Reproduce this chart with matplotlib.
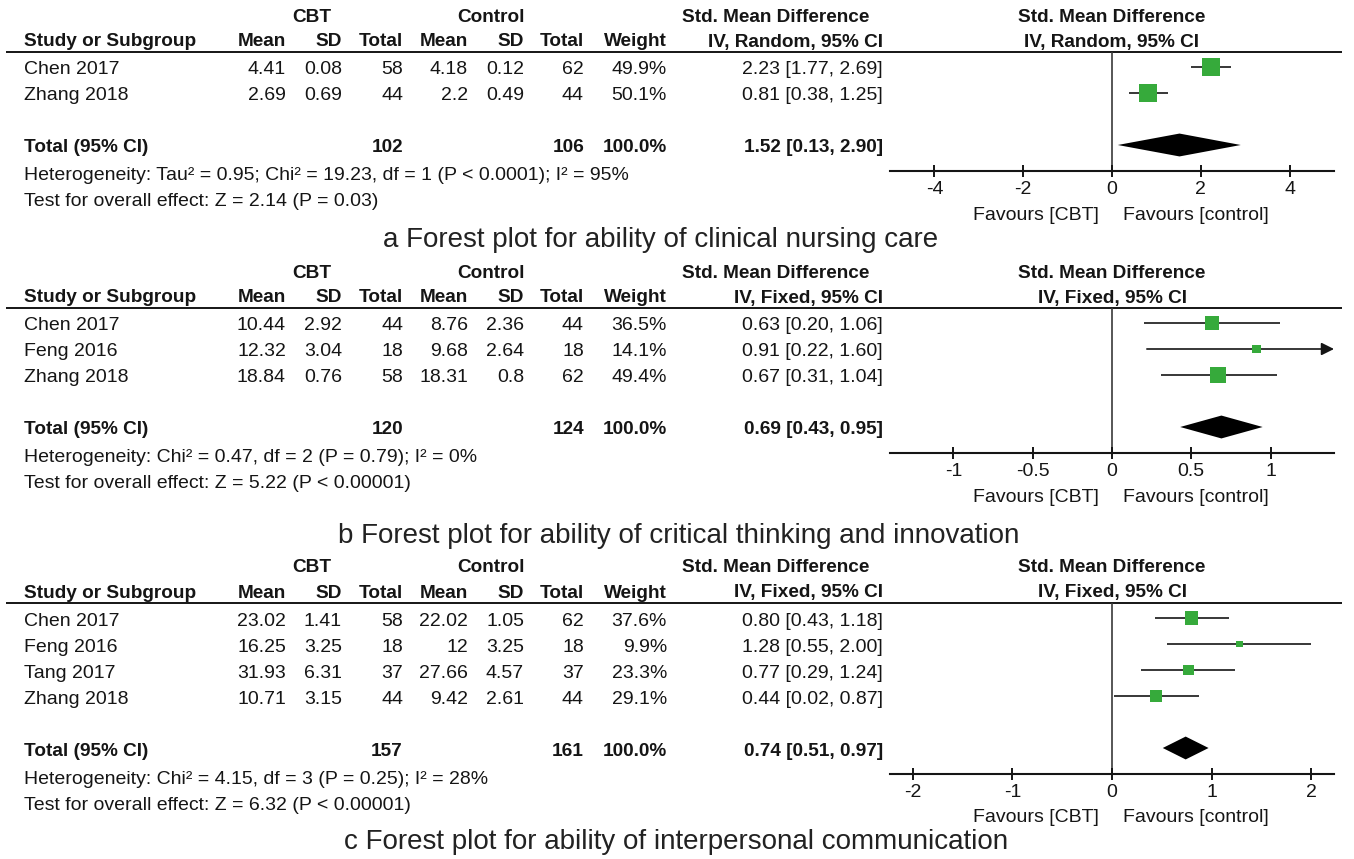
import numpy as np
import matplotlib
matplotlib.use('Agg')
import matplotlib.pyplot as plt

plt.rcParams['font.family'] = ['Liberation Sans', 'DejaVu Sans']
plt.rcParams['axes.unicode_minus'] = False

W, H = 1354, 859
PT = 0.72          # points per pixel at dpi 100
ROW = 26           # row pitch in pixels
INK = '#151515'
GREEN = '#36aa3b'

# --- a: clinical nursing care (random effects) ---
a_study = ['Chen 2017', 'Zhang 2018']
a_cbt_mean = [4.41, 2.69]
a_cbt_sd = [0.08, 0.69]
a_cbt_n = [58, 44]
a_ctl_mean = [4.18, 2.2]
a_ctl_sd = [0.12, 0.49]
a_ctl_n = [62, 44]
a_weight = [49.9, 50.1]
a_smd = [2.23, 0.81]
a_lo = [1.77, 0.38]
a_hi = [2.69, 1.25]
a_total = [1.52, 0.13, 2.90]
a_het = 'Heterogeneity: Tau² = 0.95; Chi² = 19.23, df = 1 (P < 0.0001); I² = 95%'
a_test = 'Test for overall effect: Z = 2.14 (P = 0.03)'
a_ticks = [-4, -2, 0, 2, 4]

# --- b: critical thinking and innovation (fixed effects) ---
b_study = ['Chen 2017', 'Feng 2016', 'Zhang 2018']
b_cbt_mean = [10.44, 12.32, 18.84]
b_cbt_sd = [2.92, 3.04, 0.76]
b_cbt_n = [44, 18, 58]
b_ctl_mean = [8.76, 9.68, 18.31]
b_ctl_sd = [2.36, 2.64, 0.8]
b_ctl_n = [44, 18, 62]
b_weight = [36.5, 14.1, 49.4]
b_smd = [0.63, 0.91, 0.67]
b_lo = [0.20, 0.22, 0.31]
b_hi = [1.06, 1.60, 1.04]
b_total = [0.69, 0.43, 0.95]
b_het = 'Heterogeneity: Chi² = 0.47, df = 2 (P = 0.79); I² = 0%'
b_test = 'Test for overall effect: Z = 5.22 (P < 0.00001)'
b_ticks = [-1, -0.5, 0, 0.5, 1]

# --- c: interpersonal communication (fixed effects) ---
c_study = ['Chen 2017', 'Feng 2016', 'Tang 2017', 'Zhang 2018']
c_cbt_mean = [23.02, 16.25, 31.93, 10.71]
c_cbt_sd = [1.41, 3.25, 6.31, 3.15]
c_cbt_n = [58, 18, 37, 44]
c_ctl_mean = [22.02, 12, 27.66, 9.42]
c_ctl_sd = [1.05, 3.25, 4.57, 2.61]
c_ctl_n = [62, 18, 37, 44]
c_weight = [37.6, 9.9, 23.3, 29.1]
c_smd = [0.80, 1.28, 0.77, 0.44]
c_lo = [0.43, 0.55, 0.29, 0.02]
c_hi = [1.18, 2.00, 1.24, 0.87]
c_total = [0.74, 0.51, 0.97]
c_het = 'Heterogeneity: Chi² = 4.15, df = 3 (P = 0.25); I² = 28%'
c_test = 'Test for overall effect: Z = 6.32 (P < 0.00001)'
c_ticks = [-2, -1, 0, 1, 2]

COL_NAMES = ['Mean', 'SD', 'Total', 'Mean', 'SD', 'Total', 'Weight']
COL_X = [286, 342, 403, 468, 524, 584, 667, 883]   # right edges
FX0, FX1 = 890, 1334                                # forest plot span

fig = plt.figure(figsize=(W / 100, H / 100), dpi=100)
bg = fig.add_axes([0, 0, 1, 1])
bg.set_xlim(0, W)
bg.set_ylim(H, 0)
bg.axis('off')

TXT = dict(fontsize=14, color=INK, va='center')
BOLD = dict(TXT, fontweight='bold', fontsize=13.7)


def panel(line_y, method, study, m1, s1, n1, m2, s2, n2, wt, smd, lo, hi,
          total, het, test, xmax, ticks, box_px, caption, cap_x, cap_y):
    n = len(study)

    # headers
    gy = line_y - 35
    bg.text(312, gy, 'CBT', ha='center', **BOLD)
    bg.text(491, gy, 'Control', ha='center', **BOLD)
    bg.text(869, gy, 'Std. Mean Difference', ha='right', **BOLD)
    bg.text((FX0 + FX1) / 2, gy, 'Std. Mean Difference', ha='center', **BOLD)
    hy = line_y - 10
    bg.text(24, hy, 'Study or Subgroup', ha='left', **BOLD)
    for x, s in zip(COL_X, COL_NAMES + [method]):
        bg.text(x, hy, s, ha='right', **BOLD)
    bg.text((FX0 + FX1) / 2, hy, method, ha='center', **BOLD)
    bg.hlines(line_y, 6, 1342, color=INK, lw=1.4)

    # study rows
    for i in range(n):
        ty = line_y + 15 + ROW * i + 3
        cells = [f'{m1[i]:g}', f'{s1[i]:g}', str(n1[i]),
                 f'{m2[i]:g}', f'{s2[i]:g}', str(n2[i]),
                 f'{wt[i]:.1f}%',
                 f'{smd[i]:.2f} [{lo[i]:.2f}, {hi[i]:.2f}]']
        bg.text(24, ty, study[i], ha='left', **TXT)
        for x, s in zip(COL_X, cells):
            bg.text(x, ty, s, ha='right', **TXT)

    # pooled row and footnotes
    ty = line_y + 15 + ROW * (n + 1) + 3
    est, tlo, thi = total
    bg.text(24, ty, 'Total (95% CI)', ha='left', **BOLD)
    bg.text(COL_X[2], ty, str(sum(n1)), ha='right', **BOLD)
    bg.text(COL_X[5], ty, str(sum(n2)), ha='right', **BOLD)
    bg.text(COL_X[6], ty, '100.0%', ha='right', **BOLD)
    bg.text(COL_X[7], ty, f'{est:.2f} [{tlo:.2f}, {thi:.2f}]', ha='right', **BOLD)
    bg.text(24, ty + 28, het, ha='left', **TXT)
    bg.text(24, ty + 54, test, ha='left', **TXT)

    # forest plot
    axis_y = line_y + 15 + ROW * (n + 2)
    fax = fig.add_axes([FX0 / W, 1 - axis_y / H, (FX1 - FX0) / W,
                        (axis_y - line_y) / H])
    fax.patch.set_alpha(0)
    fax.set_xlim(-xmax, xmax)
    fax.set_ylim(n + 2, -15 / ROW)
    for side in ['top', 'left', 'right']:
        fax.spines[side].set_visible(False)
    fax.spines['bottom'].set_linewidth(1.5)
    fax.spines['bottom'].set_color(INK)
    fax.set_yticks([])
    fax.set_xticks(ticks)
    fax.set_xticklabels([f'{t:g}' for t in ticks])
    fax.tick_params(axis='x', direction='inout', length=12 * PT, width=1.4,
                    labelsize=14, pad=3, colors=INK)
    fax.axvline(0, color='#3a3a3a', lw=1.2, zorder=1)

    rows = np.arange(n)
    for i in range(n):
        if hi[i] > xmax:
            # interval runs off the scale: finish it with an arrow head
            fax.annotate('', xy=(xmax, i), xytext=(lo[i], i),
                         arrowprops=dict(arrowstyle='-|>', color=INK, lw=1.2,
                                         mutation_scale=19, shrinkA=0, shrinkB=0),
                         annotation_clip=False)
        else:
            fax.hlines(i, lo[i], hi[i], color=INK, lw=1.2, zorder=2)
    side = box_px * np.sqrt(np.array(wt) / max(wt)) * PT
    fax.scatter(smd, rows, s=side ** 2, marker='s', color=GREEN,
                linewidths=0, zorder=3)
    yt = n + 1
    fax.fill([tlo, est, thi, est], [yt, yt - 0.44, yt, yt + 0.44],
             color='black', lw=0, zorder=3)

    fax.annotate('Favours [CBT]', xy=(0, 0), xycoords=('data', 'axes fraction'),
                 xytext=(-13 * PT, -44 * PT), textcoords='offset points',
                 ha='right', va='center', fontsize=14, color=INK)
    fax.annotate('Favours [control]', xy=(0, 0), xycoords=('data', 'axes fraction'),
                 xytext=(11 * PT, -44 * PT), textcoords='offset points',
                 ha='left', va='center', fontsize=14, color=INK)

    bg.text(cap_x, cap_y, caption, ha='center', va='center', fontsize=20,
            color='#222222')


panel(52, 'IV, Random, 95% CI', a_study, a_cbt_mean, a_cbt_sd, a_cbt_n,
      a_ctl_mean, a_ctl_sd, a_ctl_n, a_weight, a_smd, a_lo, a_hi, a_total,
      a_het, a_test, 5.0, a_ticks, 17.5,
      'a Forest plot for ability of clinical nursing care', 661, 240)
panel(308, 'IV, Fixed, 95% CI', b_study, b_cbt_mean, b_cbt_sd, b_cbt_n,
      b_ctl_mean, b_ctl_sd, b_ctl_n, b_weight, b_smd, b_lo, b_hi, b_total,
      b_het, b_test, 1.4, b_ticks, 16,
      'b Forest plot for ability of critical thinking and innovation', 679, 536)
panel(603, 'IV, Fixed, 95% CI', c_study, c_cbt_mean, c_cbt_sd, c_cbt_n,
      c_ctl_mean, c_ctl_sd, c_ctl_n, c_weight, c_smd, c_lo, c_hi, c_total,
      c_het, c_test, 2.23, c_ticks, 13.5,
      'c Forest plot for ability of interpersonal communication', 676, 842)

fig.savefig('out.png', dpi=100)
